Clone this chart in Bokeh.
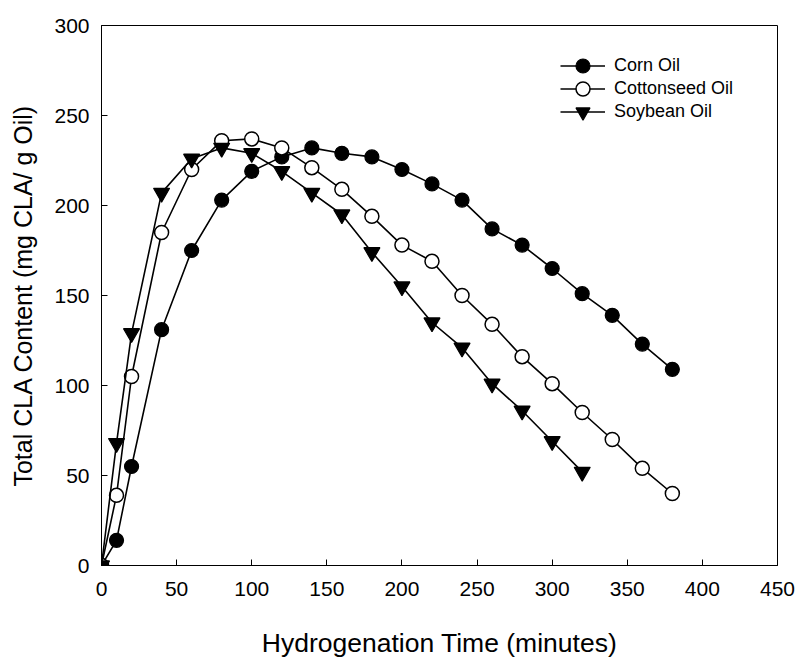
from bokeh.plotting import figure
from bokeh.models import Range1d, Legend, LegendItem, FixedTicker
from bokeh.embed import file_html
from bokeh.resources import INLINE

time_corn = [0, 10, 20, 40, 60, 80, 100, 120, 140, 160, 180, 200, 220, 240, 260, 280, 300, 320, 340, 360, 380]
corn_oil = [0, 14, 55, 131, 175, 203, 219, 227, 232, 229, 227, 220, 212, 203, 187, 178, 165, 151, 139, 123, 109]

time_cotton = [0, 10, 20, 40, 60, 80, 100, 120, 140, 160, 180, 200, 220, 240, 260, 280, 300, 320, 340, 360, 380]
cottonseed_oil = [0, 39, 105, 185, 220, 236, 237, 232, 221, 209, 194, 178, 169, 150, 134, 116, 101, 85, 70, 54, 40]

time_soy = [0, 10, 20, 40, 60, 80, 100, 120, 140, 160, 180, 200, 220, 240, 260, 280, 300, 320]
soybean_oil = [0, 68, 129, 207, 226, 232, 229, 219, 207, 195, 174, 155, 135, 121, 101, 86, 69, 52]

x_ticks = [0, 50, 100, 150, 200, 250, 300, 350, 400, 450]
y_ticks = [0, 50, 100, 150, 200, 250, 300]

series_labels = ["Corn Oil", "Cottonseed Oil", "Soybean Oil"]

FONT = "Liberation Sans"

p = figure(width=800, height=665, output_backend="svg", toolbar_location=None,
           x_range=Range1d(0, 450), y_range=Range1d(0, 300),
           min_border_left=101, min_border_right=23, min_border_top=25, min_border_bottom=100)

p.xgrid.visible = False
p.ygrid.visible = False
p.outline_line_color = "black"
p.outline_line_width = 1
p.background_fill_color = "white"
p.border_fill_color = "white"

for ax in (p.xaxis[0], p.yaxis[0]):
    ax.axis_line_color = "black"
    ax.major_tick_in = 6
    ax.major_tick_out = 0
    ax.minor_tick_line_color = None
    ax.major_tick_line_color = "black"
    ax.major_label_text_font = FONT
    ax.major_label_text_font_size = "21px"
    ax.major_label_text_color = "black"
    ax.axis_label_text_font = FONT
    ax.axis_label_text_font_style = "normal"
    ax.axis_label_text_color = "black"

p.xaxis.ticker = FixedTicker(ticks=x_ticks)
p.yaxis.ticker = FixedTicker(ticks=y_ticks)
p.xaxis.axis_label = "Hydrogenation Time (minutes)"
p.yaxis.axis_label = "Total CLA Content (mg CLA/ g Oil)"
p.xaxis.axis_label_text_font_size = "26.5px"
p.yaxis.axis_label_text_font_size = "25px"
p.xaxis.major_label_standoff = 16
p.yaxis.major_label_standoff = 12
p.xaxis.axis_label_standoff = 29
p.yaxis.axis_label_standoff = 14

lw = 1.6
l1 = p.line(time_corn, corn_oil, line_color="black", line_width=lw)
s1 = p.scatter(time_corn, corn_oil, marker="circle", size=14, fill_color="black", line_color="black", line_width=1.2)
l2 = p.line(time_cotton, cottonseed_oil, line_color="black", line_width=lw)
s2 = p.scatter(time_cotton, cottonseed_oil, marker="circle", size=14, fill_color="white", line_color="black", line_width=1.5)
l3 = p.line(time_soy, soybean_oil, line_color="black", line_width=lw)
s3 = p.scatter(time_soy, soybean_oil, marker="inverted_triangle", size=16, fill_color="black", line_color="black", line_width=1.2)

renderer_pairs = [[l1, s1], [l2, s2], [l3, s3]]
legend_y = [482, 459, 436]
for label, rends, ly in zip(series_labels, renderer_pairs, legend_y):
    lg = Legend(items=[LegendItem(label=label, renderers=rends)], location=(459, ly))
    lg.border_line_color = None
    lg.background_fill_alpha = 0
    lg.glyph_width = 45
    lg.glyph_height = 35
    lg.label_height = 35
    lg.padding = 0
    lg.margin = 0
    lg.label_standoff = 9
    lg.label_text_font = FONT
    lg.label_text_font_size = "18px"
    lg.label_text_color = "black"
    p.add_layout(lg)

open("out.html", "w").write(file_html(p, INLINE))
